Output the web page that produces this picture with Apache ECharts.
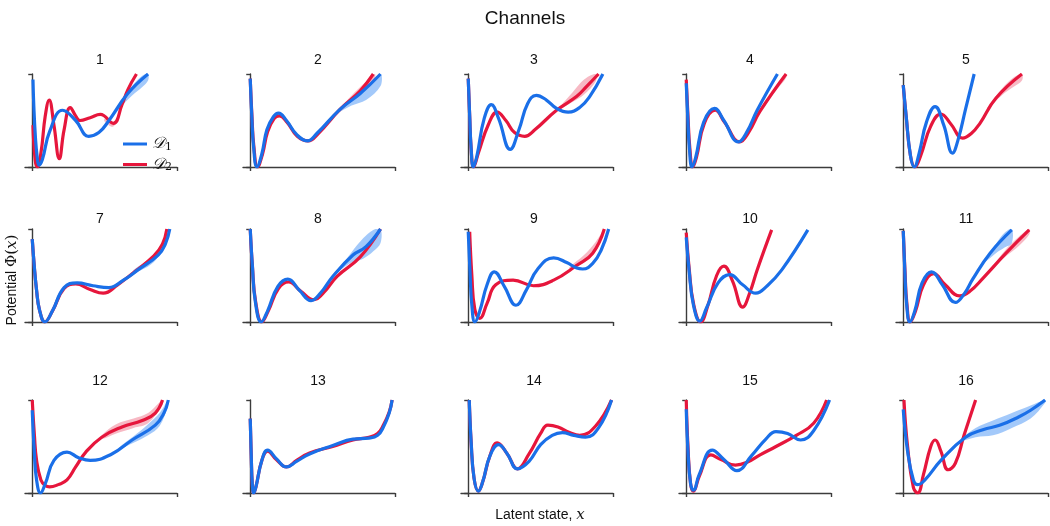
<!DOCTYPE html>
<html><head><meta charset="utf-8">
<script src="https://cdn.jsdelivr.net/npm/echarts@6/dist/echarts.min.js"></script>
<style>html,body{margin:0;padding:0;background:#fff}#c{width:1050px;height:526px}</style>
</head><body><div id="c"></div>
<script>
// ---- data (x and potential normalized to the axis ticks: 0..1) ----
const channels = ['1','2','3','4','5','7','8','9','10','11','12','13','14','15','16'];
const xTicks = [0, 1];
const yTicks = [0, 1];

const blue1 = [[0.005,0.94],[0.011,0.65],[0.022,0.32],[0.034,0.11],[0.047,0.02],[0.07,0.08],[0.12,0.38],[0.21,0.61],[0.30,0.50],[0.39,0.33],[0.46,0.37],[0.53,0.50],[0.66,0.79],[0.80,1.0]];
const red1 = [[0.005,0.45],[0.02,0.08],[0.034,0.0],[0.06,0.15],[0.09,0.55],[0.117,0.72],[0.15,0.45],[0.187,0.09],[0.22,0.40],[0.263,0.64],[0.30,0.55],[0.33,0.50],[0.40,0.53],[0.47,0.565],[0.56,0.47],[0.62,0.67],[0.66,0.83],[0.72,1.0]];
const blueBand1 = [[0.55,0.53,0.55],[0.62,0.66,0.72],[0.69,0.77,0.87],[0.76,0.86,0.98],[0.80,0.93,1.0]];
const redBand1 = [[0.50,0.49,0.52],[0.56,0.435,0.475],[0.61,0.58,0.63]];

const blue2 = [[0,0.95],[0.011,0.54],[0.023,0.22],[0.046,0.0],[0.08,0.14],[0.115,0.40],[0.16,0.54],[0.195,0.58],[0.25,0.50],[0.32,0.35],[0.395,0.28],[0.46,0.36],[0.62,0.62],[0.76,0.79],[0.90,1.0]];
const red2 = [[0,0.95],[0.012,0.54],[0.025,0.22],[0.05,0.0],[0.085,0.14],[0.12,0.38],[0.165,0.52],[0.2,0.55],[0.255,0.48],[0.325,0.33],[0.40,0.28],[0.47,0.36],[0.62,0.62],[0.76,0.82],[0.85,1.0]];
const blueBand2 = [[0.60,0.58,0.61],[0.70,0.66,0.74],[0.80,0.72,0.86],[0.90,0.87,1.0]];
const redBand2 = [[0.62,0.61,0.63],[0.72,0.74,0.80],[0.80,0.84,0.92],[0.86,0.95,1.0]];

const blue3 = [[0,0.95],[0.01,0.55],[0.02,0.2],[0.035,0.0],[0.06,0.12],[0.11,0.52],[0.16,0.67],[0.21,0.52],[0.29,0.19],[0.35,0.40],[0.41,0.68],[0.47,0.77],[0.54,0.72],[0.61,0.63],[0.69,0.59],[0.77,0.64],[0.84,0.76],[0.93,1.0]];
const red3 = [[0,0.95],[0.01,0.55],[0.02,0.2],[0.037,0.0],[0.07,0.15],[0.14,0.46],[0.20,0.59],[0.26,0.50],[0.32,0.37],[0.39,0.33],[0.46,0.40],[0.61,0.61],[0.75,0.76],[0.82,0.87],[0.90,1.0]];
const blueBand3 = [];
const redBand3 = [[0.63,0.62,0.64],[0.72,0.70,0.80],[0.80,0.78,0.94],[0.88,0.92,1.0]];

const blue4 = [[0,0.90],[0.01,0.55],[0.022,0.2],[0.04,0.0],[0.065,0.1],[0.12,0.48],[0.195,0.63],[0.26,0.50],[0.36,0.27],[0.42,0.38],[0.49,0.61],[0.63,1.0]];
const red4 = [[0,0.94],[0.012,0.55],[0.025,0.2],[0.045,0.0],[0.07,0.1],[0.125,0.47],[0.2,0.61],[0.265,0.48],[0.37,0.27],[0.43,0.37],[0.51,0.60],[0.69,1.0]];
const blueBand4 = [];
const redBand4 = [[0.58,0.75,0.77],[0.64,0.86,0.92],[0.69,0.96,1.0]];

const blue5 = [[0,0.88],[0.02,0.55],[0.05,0.12],[0.076,0.0],[0.11,0.15],[0.16,0.48],[0.22,0.65],[0.28,0.45],[0.34,0.15],[0.38,0.30],[0.43,0.62],[0.49,1.0]];
const red5 = [[0,0.88],[0.02,0.55],[0.05,0.12],[0.08,0.0],[0.12,0.12],[0.19,0.44],[0.26,0.57],[0.33,0.46],[0.41,0.31],[0.47,0.36],[0.53,0.47],[0.64,0.74],[0.82,1.0]];
const blueBand5 = [];
const redBand5 = [[0.58,0.62,0.64],[0.68,0.77,0.84],[0.76,0.86,0.96],[0.82,0.93,1.0]];

const blue7 = [[0,0.89],[0.014,0.6],[0.03,0.34],[0.05,0.13],[0.087,0.0],[0.14,0.12],[0.22,0.37],[0.31,0.42],[0.42,0.39],[0.53,0.37],[0.63,0.45],[0.73,0.56],[0.87,0.72],[0.92,0.84],[0.95,1.0]];
const red7 = [[0,0.89],[0.014,0.6],[0.03,0.34],[0.05,0.13],[0.087,0.0],[0.14,0.12],[0.22,0.36],[0.30,0.41],[0.40,0.35],[0.49,0.31],[0.59,0.40],[0.69,0.52],[0.84,0.71],[0.90,0.84],[0.93,1.0]];
const blueBand7 = [[0.70,0.52,0.56],[0.85,0.66,0.72],[0.95,0.97,1.0]];
const redBand7 = [];

const blue8 = [[0,1.0],[0.015,0.6],[0.035,0.22],[0.076,0.0],[0.12,0.12],[0.19,0.38],[0.26,0.46],[0.34,0.34],[0.42,0.23],[0.49,0.32],[0.57,0.49],[0.71,0.72],[0.80,0.81],[0.90,1.0]];
const red8 = [[0,1.0],[0.015,0.6],[0.037,0.22],[0.08,0.0],[0.125,0.12],[0.195,0.36],[0.265,0.43],[0.35,0.33],[0.44,0.24],[0.51,0.32],[0.60,0.49],[0.76,0.70],[0.90,1.0]];
const blueBand8 = [[0.62,0.56,0.58],[0.70,0.64,0.75],[0.78,0.68,0.90],[0.85,0.76,0.99],[0.90,0.85,1.0]];
const redBand8 = [];

const blue9 = [[0,0.97],[0.012,0.55],[0.025,0.18],[0.046,0.0],[0.08,0.12],[0.13,0.40],[0.18,0.54],[0.25,0.38],[0.33,0.18],[0.40,0.34],[0.48,0.57],[0.59,0.69],[0.68,0.64],[0.75,0.58],[0.79,0.57],[0.86,0.63],[0.92,0.78],[0.97,1.0]];
const red9 = [[0.01,0.97],[0.025,0.5],[0.045,0.14],[0.08,0.04],[0.13,0.20],[0.19,0.40],[0.31,0.45],[0.45,0.39],[0.59,0.45],[0.75,0.61],[0.86,0.74],[0.94,1.0]];
const blueBand9 = [];
const redBand9 = [[0.70,0.57,0.59],[0.80,0.64,0.72],[0.88,0.76,0.86],[0.94,0.96,1.0]];

const blue10 = [[0,0.91],[0.02,0.55],[0.05,0.18],[0.094,0.01],[0.14,0.15],[0.22,0.42],[0.30,0.51],[0.39,0.40],[0.48,0.31],[0.56,0.39],[0.66,0.56],[0.84,0.99]];
const red10 = [[0,0.96],[0.02,0.58],[0.05,0.2],[0.1,0.0],[0.15,0.18],[0.21,0.50],[0.26,0.60],[0.32,0.44],[0.39,0.16],[0.44,0.32],[0.49,0.56],[0.59,0.99]];
const blueBand10 = [];
const redBand10 = [];

const blue11 = [[0,0.98],[0.011,0.55],[0.023,0.2],[0.046,0.0],[0.08,0.12],[0.13,0.42],[0.195,0.54],[0.27,0.40],[0.36,0.21],[0.42,0.30],[0.48,0.46],[0.60,0.74],[0.75,0.99]];
const red11 = [[0,0.98],[0.012,0.55],[0.025,0.2],[0.048,0.0],[0.085,0.12],[0.14,0.40],[0.21,0.52],[0.29,0.40],[0.39,0.28],[0.46,0.33],[0.55,0.47],[0.71,0.74],[0.87,0.99]];
const blueBand11 = [[0.56,0.64,0.66],[0.64,0.74,0.84],[0.70,0.80,0.96],[0.75,0.85,1.0]];
const redBand11 = [[0.64,0.62,0.64],[0.72,0.72,0.80],[0.80,0.82,0.92],[0.87,0.94,1.0]];

const blue12 = [[0,0.89],[0.014,0.45],[0.03,0.14],[0.057,0.0],[0.09,0.10],[0.15,0.35],[0.24,0.44],[0.32,0.38],[0.40,0.35],[0.55,0.42],[0.69,0.57],[0.85,0.73],[0.91,0.86],[0.94,1.0]];
const red12 = [[0,1.0],[0.015,0.62],[0.03,0.35],[0.06,0.14],[0.09,0.08],[0.12,0.065],[0.18,0.09],[0.24,0.14],[0.30,0.28],[0.37,0.44],[0.48,0.60],[0.62,0.71],[0.76,0.78],[0.85,0.86],[0.90,1.0]];
const blueBand12 = [[0.60,0.47,0.49],[0.70,0.54,0.61],[0.80,0.62,0.74],[0.88,0.72,0.86],[0.94,0.95,1.0]];
const redBand12 = [[0.48,0.58,0.62],[0.58,0.64,0.74],[0.70,0.70,0.80],[0.80,0.75,0.86],[0.90,0.95,1.0]];

const blue13 = [[0,0.80],[0.007,0.4],[0.014,0.1],[0.024,0.0],[0.04,0.07],[0.08,0.35],[0.12,0.46],[0.18,0.37],[0.25,0.28],[0.32,0.34],[0.41,0.42],[0.57,0.51],[0.71,0.58],[0.82,0.59],[0.88,0.62],[0.92,0.71],[0.96,0.86],[0.98,1.0]];
const red13 = [[0,0.80],[0.007,0.4],[0.014,0.1],[0.024,0.0],[0.04,0.07],[0.08,0.35],[0.12,0.45],[0.18,0.36],[0.25,0.28],[0.32,0.35],[0.41,0.43],[0.57,0.50],[0.71,0.57],[0.82,0.60],[0.88,0.64],[0.92,0.73],[0.96,0.87],[0.98,1.0]];
const blueBand13 = [];
const redBand13 = [];

const blue14 = [[0.007,1.0],[0.02,0.55],[0.04,0.16],[0.07,0.02],[0.10,0.12],[0.15,0.40],[0.21,0.52],[0.27,0.42],[0.34,0.26],[0.42,0.34],[0.50,0.52],[0.58,0.62],[0.65,0.65],[0.73,0.62],[0.81,0.60],[0.90,0.70],[0.99,1.0]];
const red14 = [[0.007,1.0],[0.02,0.55],[0.04,0.16],[0.07,0.02],[0.10,0.12],[0.15,0.40],[0.20,0.54],[0.27,0.42],[0.34,0.26],[0.42,0.42],[0.50,0.64],[0.55,0.73],[0.62,0.71],[0.70,0.65],[0.77,0.62],[0.88,0.72],[0.99,1.0]];
const blueBand14 = [];
const redBand14 = [];

const blue15 = [[0.0,0.90],[0.012,0.45],[0.03,0.1],[0.05,0.03],[0.09,0.20],[0.18,0.46],[0.26,0.36],[0.35,0.24],[0.45,0.40],[0.55,0.58],[0.62,0.66],[0.70,0.64],[0.79,0.57],[0.88,0.67],[0.99,1.0]];
const red15 = [[0.0,1.0],[0.012,0.5],[0.03,0.1],[0.05,0.02],[0.09,0.18],[0.17,0.41],[0.24,0.36],[0.34,0.30],[0.42,0.33],[0.51,0.41],[0.62,0.50],[0.76,0.62],[0.88,0.75],[0.97,1.0]];
const blueBand15 = [];
const redBand15 = [];

const blue16 = [[0.0,0.90],[0.03,0.45],[0.07,0.14],[0.10,0.09],[0.15,0.14],[0.26,0.35],[0.43,0.60],[0.55,0.68],[0.67,0.73],[0.80,0.82],[0.88,0.89],[0.98,1.0]];
const red16 = [[0.005,1.0],[0.03,0.50],[0.07,0.06],[0.10,0.0],[0.14,0.20],[0.19,0.50],[0.22,0.57],[0.26,0.45],[0.31,0.25],[0.36,0.32],[0.42,0.62],[0.50,1.0]];
const blueBand16 = [[0.40,0.56,0.58],[0.50,0.60,0.70],[0.62,0.62,0.78],[0.75,0.70,0.86],[0.88,0.80,0.94],[0.98,0.97,1.0]];
const redBand16 = [];

const blueCurves = [blue1,blue2,blue3,blue4,blue5,blue7,blue8,blue9,blue10,blue11,blue12,blue13,blue14,blue15,blue16];
const redCurves = [red1,red2,red3,red4,red5,red7,red8,red9,red10,red11,red12,red13,red14,red15,red16];
const blueBands = [blueBand1,blueBand2,blueBand3,blueBand4,blueBand5,blueBand7,blueBand8,blueBand9,blueBand10,blueBand11,blueBand12,blueBand13,blueBand14,blueBand15,blueBand16];
const redBands = [redBand1,redBand2,redBand3,redBand4,redBand5,redBand7,redBand8,redBand9,redBand10,redBand11,redBand12,redBand13,redBand14,redBand15,redBand16];

// ---- layout / style ----
const colLeft = [25, 243, 461, 679, 896];   // y-axis line position
const rowTop = [74, 229, 400];
const titleX = [100, 318, 534, 750, 966];
const titleY = [60, 219, 381];
const PW = 152, PH = 93;
const X_MIN = -0.05;                        // x-axis line reaches back to the y-axis
const BLUE = '#1a6fe8', RED = '#e6163c';
const BLUE_BAND = 'rgba(50,135,245,0.45)', RED_BAND = 'rgba(235,70,100,0.38)';
const FONT = '"Liberation Sans", Arial, sans-serif';
const AX = '#3c3c3c';
const LW = 3.2;

const chart = echarts.init(document.getElementById('c'), null, {renderer: 'canvas'});
const grid = [], xAxis = [], yAxis = [], series = [], graphic = [];

function bandSeries(band, i, color) {
  return {
    type: 'custom', xAxisIndex: i, yAxisIndex: i, z: 1, silent: true,
    data: band, encode: {x: 0, y: [1, 2]}, clip: true,
    renderItem: function (params, api) {
      if (params.dataIndex !== 0) return null;
      const up = band.map(p => api.coord([p[0], p[2]]));
      const lo = band.map(p => api.coord([p[0], p[1]])).reverse();
      return {type: 'polygon', shape: {points: up.concat(lo), smooth: 0.35},
        style: {fill: color, stroke: null}};
    }
  };
}

channels.forEach((name, i) => {
  const r = Math.floor(i / 5), c = i % 5;
  grid.push({left: colLeft[c], top: rowTop[r], width: PW, height: PH, containLabel: false});
  xAxis.push({
    type: 'value', gridIndex: i, min: X_MIN, max: 1, offset: 10,
    axisLine: {show: true, lineStyle: {color: AX, width: 1.4}},
    axisTick: {show: true, length: 4, customValues: xTicks, lineStyle: {color: AX, width: 1.4}},
    axisLabel: {show: false}, splitLine: {show: false}
  });
  yAxis.push({
    type: 'value', gridIndex: i, min: 0, max: 1, interval: 1,
    axisLine: {show: true, lineStyle: {color: AX, width: 1.4}},
    axisTick: {show: true, length: 4, customValues: yTicks, lineStyle: {color: AX, width: 1.4}},
    axisLabel: {show: false}, splitLine: {show: false}
  });
  if (redBands[i].length) series.push(bandSeries(redBands[i], i, RED_BAND));
  if (blueBands[i].length) series.push(bandSeries(blueBands[i], i, BLUE_BAND));
  series.push({name: 'D2', type: 'line', xAxisIndex: i, yAxisIndex: i, data: redCurves[i], smooth: 0.45,
    showSymbol: false, z: 2, silent: true, clip: true, color: RED,
    itemStyle: {color: RED}, lineStyle: {color: RED, width: LW}});
  series.push({name: 'D1', type: 'line', xAxisIndex: i, yAxisIndex: i, data: blueCurves[i], smooth: 0.45,
    showSymbol: false, z: 3, silent: true, clip: true, color: BLUE,
    itemStyle: {color: BLUE}, lineStyle: {color: BLUE, width: LW}});
  graphic.push({type: 'text', x: titleX[c], y: titleY[r],
    style: {text: name, font: '14px ' + FONT, fill: '#111', textAlign: 'center', textVerticalAlign: 'middle'}});
});

graphic.push({type: 'text', x: 525, y: 19,
  style: {text: 'Channels', font: '19px ' + FONT, fill: '#111', textAlign: 'center', textVerticalAlign: 'middle'}});
graphic.push({type: 'text', x: 540, y: 515,
  style: {text: 'Latent state, {i|x}', font: '14px ' + FONT, fill: '#111', textAlign: 'center', textVerticalAlign: 'middle',
    rich: {i: {fontFamily: '"DejaVu Serif", serif', fontStyle: 'italic', fontSize: 15, fill: '#111'}}}});
graphic.push({type: 'text', x: 12, y: 280, rotation: Math.PI / 2,
  style: {text: 'Potential {m|Φ(}{i|x}{m|)}', font: '14px ' + FONT, fill: '#111', textAlign: 'center', textVerticalAlign: 'middle',
    rich: {m: {fontFamily: '"DejaVu Serif", serif', fontSize: 15, fill: '#111'},
           i: {fontFamily: '"DejaVu Serif", serif', fontStyle: 'italic', fontSize: 15, fill: '#111'}}}});

chart.setOption({
  animation: false,
  backgroundColor: '#fff',
  grid, xAxis, yAxis, series, graphic,
  legend: {
    data: ['D1', 'D2'], orient: 'vertical', left: 118, top: 131, icon: 'rect',
    itemWidth: 24, itemHeight: 3, itemGap: 4, selectedMode: false,
    formatter: n => '{d|𝒟}{s|' + n.slice(1) + '}',
    textStyle: {rich: {
      d: {fontFamily: '"DejaVu Serif", "DejaVu Sans", serif', fontStyle: 'italic', fontSize: 16, color: '#111'},
      s: {fontFamily: '"DejaVu Serif", serif', fontSize: 11, color: '#111', padding: [6, 0, 0, 0]}
    }}
  }
});
</script></body></html>
